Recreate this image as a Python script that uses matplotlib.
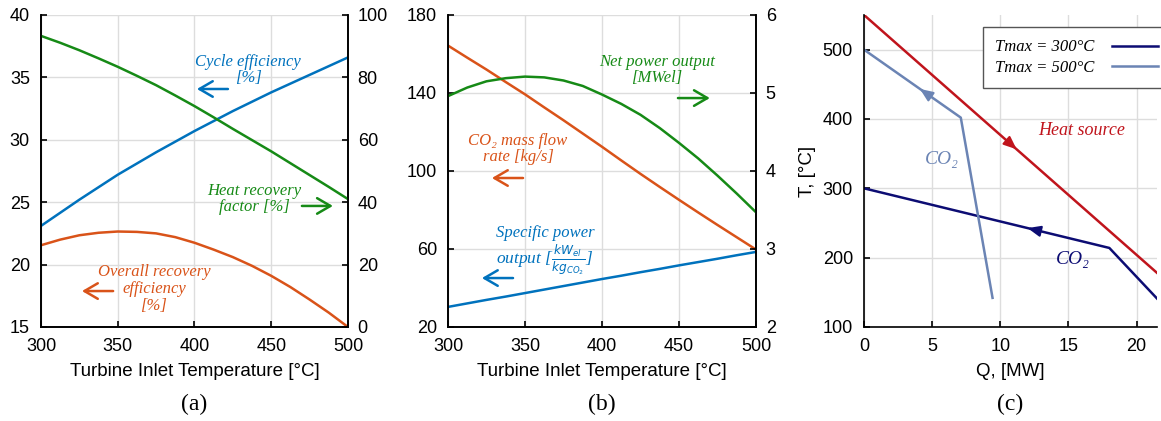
import matplotlib
matplotlib.use('Agg')
import matplotlib.pyplot as plt
import numpy as np

plt.rcParams['font.family'] = ['Liberation Sans', 'DejaVu Sans']
plt.rcParams['mathtext.fontset'] = 'dejavusans'

# (a) turbine inlet temperature sweep
tit = [300, 312.5, 325, 337.5, 350, 362.5, 375, 387.5, 400,
       412.5, 425, 437.5, 450, 462.5, 475, 487.5, 500]
cycle_eff = [23.1, 24.15, 25.2, 26.2, 27.2, 28.1, 29.0, 29.85, 30.7,
             31.5, 32.3, 33.05, 33.8, 34.5, 35.2, 35.9, 36.6]
overall_eff = [21.55, 22.0, 22.35, 22.55, 22.65, 22.62, 22.5, 22.2, 21.75,
               21.2, 20.6, 19.9, 19.1, 18.2, 17.2, 16.15, 15.0]
heat_rec = [93.3, 91.1, 88.7, 86.1, 83.4, 80.5, 77.5, 74.2, 70.8,
            67.2, 63.5, 59.9, 56.3, 52.5, 48.7, 44.9, 41.0]

# (b)
mass_flow = [164.3, 158.1, 152.0, 145.6, 139.3, 132.6, 126.0, 119.2, 112.4,
             105.4, 98.5, 91.8, 85.2, 78.7, 72.3, 66.0, 59.7]
spec_power = [30.3, 32.1, 33.9, 35.6, 37.4, 39.2, 41.0, 42.8, 44.6,
              46.3, 48.1, 49.8, 51.6, 53.3, 55.0, 56.8, 58.5]
net_power = [4.96, 5.07, 5.15, 5.19, 5.21, 5.20, 5.16, 5.09, 4.98,
             4.86, 4.72, 4.55, 4.36, 4.16, 3.94, 3.71, 3.47]

# (c) T-Q diagram
q_hs = [0, 21.5]
t_hs = [550, 178]
q_300 = [0, 18.0, 21.5]
t_300 = [300, 214, 141]
q_500 = [0, 7.1, 9.43]
t_500 = [500, 402, 142]

BLUE = '#0072BD'
ORANGE = '#D95319'
GREEN = '#168a16'
RED = '#c0141c'
NAVY = '#0c0c73'
LIGHT = '#6b84b4'

serif = ['Liberation Serif', 'DejaVu Serif']
TXT = 12
TICK = 13
LAB = 13.5

fig = plt.figure(figsize=(11.61, 4.21), dpi=100)
bot, h = 0.2233, 0.7411
ax_a = fig.add_axes([0.0353, bot, 0.2644, h])
ax_b = fig.add_axes([0.3859, bot, 0.2653, h])
ax_c = fig.add_axes([0.7442, bot, 0.2524, h])


def style_box(ax, ax2):
    ax.spines['top'].set_visible(False)
    ax2.spines['top'].set_visible(False)
    for a in (ax, ax2):
        for s in a.spines.values():
            s.set_linewidth(1.2)
    ax.tick_params(direction='in', length=4, width=1.2, labelsize=TICK, pad=8)
    ax2.tick_params(direction='in', length=4, width=1.2, labelsize=TICK, pad=7)
    ax.grid(True, color='#dddddd', lw=1.0)
    ax.set_axisbelow(True)


def txt_arrow(ax, x0, x1, y, color):
    ax.annotate('', xy=(x1, y), xytext=(x0, y),
                arrowprops=dict(arrowstyle='->,head_length=0.6,head_width=0.35',
                                color=color, lw=1.8, shrinkA=0, shrinkB=0,
                                mutation_scale=16))


def itext(ax, x, y, s, color, size=TXT):
    ax.text(x, y, s, color=color, family=serif, style='italic', fontsize=size,
            ha='center', va='center', linespacing=1.05)


# ---- (a)
ax_a2 = ax_a.twinx()
ax_a.plot(tit, cycle_eff, color=BLUE, lw=1.8)
ax_a.plot(tit, overall_eff, color=ORANGE, lw=1.8)
ax_a2.plot(tit, heat_rec, color=GREEN, lw=1.8)
ax_a.set_xlim(300, 500)
ax_a.set_ylim(15, 40)
ax_a2.set_ylim(0, 100)
ax_a.set_xticks([300, 350, 400, 450, 500])
ax_a.set_yticks([15, 20, 25, 30, 35, 40])
ax_a2.set_yticks([0, 20, 40, 60, 80, 100])
style_box(ax_a, ax_a2)
ax_a.set_xlabel('Turbine Inlet Temperature [°C]', fontsize=LAB, labelpad=6)

itext(ax_a, 435, 35.6, 'Cycle efficiency\n[%]', BLUE)
txt_arrow(ax_a, 421.8, 401.6, 34.07, BLUE)
itext(ax_a, 439, 25.26, 'Heat recovery\nfactor [%]', GREEN)
txt_arrow(ax_a, 470, 490.2, 24.7, GREEN)
itext(ax_a, 373.6, 18.04, 'Overall recovery\nefficiency\n[%]', ORANGE)
txt_arrow(ax_a, 347, 326.7, 17.88, ORANGE)

# ---- (b)
ax_b2 = ax_b.twinx()
ax_b.plot(tit, mass_flow, color=ORANGE, lw=1.8)
ax_b.plot(tit, spec_power, color=BLUE, lw=1.8)
ax_b2.plot(tit, net_power, color=GREEN, lw=1.8)
ax_b.set_xlim(300, 500)
ax_b.set_ylim(20, 180)
ax_b2.set_ylim(2, 6)
ax_b.set_xticks([300, 350, 400, 450, 500])
ax_b.set_yticks([20, 60, 100, 140, 180])
ax_b2.set_yticks([2, 3, 4, 5, 6])
style_box(ax_b, ax_b2)
ax_b.set_xlabel('Turbine Inlet Temperature [°C]', fontsize=LAB, labelpad=6)

itext(ax_b, 435.7, 151.8, 'Net power output\n[MWel]', GREEN)
txt_arrow(ax_b, 449.3, 470, 137.4, GREEN)
itext(ax_b, 345.4, 111.3, 'CO₂ mass flow\nrate [kg/s]', ORANGE)
txt_arrow(ax_b, 348.7, 328.5, 96.4, ORANGE)
itext(ax_b, 363, 68.0, 'Specific power', BLUE)
itext(ax_b, 363, 54.0, r'output [$\frac{kW_{el}}{kg_{CO_2}}$]', BLUE, size=TXT + 0.5)
txt_arrow(ax_b, 342.2, 322, 45.1, BLUE)

# ---- (c)
ax_c.plot(q_hs, t_hs, color=RED, lw=1.8)
ax_c.plot(q_300, t_300, color=NAVY, lw=1.8, label='Tmax = 300°C')
ax_c.plot(q_500, t_500, color=LIGHT, lw=1.8, label='Tmax = 500°C')


def line_arrow(ax, qs, ts, qa, direction, color):
    q0 = qa - 0.3 * direction
    ax.annotate('', xy=(qa, np.interp(qa, qs, ts)),
                xytext=(q0, np.interp(q0, qs, ts)),
                arrowprops=dict(arrowstyle='-|>,head_length=0.6,head_width=0.25',
                                color=color, lw=1.5, shrinkA=0, shrinkB=0,
                                mutation_scale=13))


line_arrow(ax_c, q_hs, t_hs, 11.2, 1, RED)
line_arrow(ax_c, q_300, t_300, 12.0, -1, NAVY)
line_arrow(ax_c, q_500, t_500, 4.1, -1, LIGHT)

ax_c.set_xlim(0, 21.5)
ax_c.set_ylim(100, 550)
ax_c.set_xticks([0, 5, 10, 15, 20])
ax_c.set_yticks([100, 200, 300, 400, 500])
ax_c.spines['top'].set_visible(False)
ax_c.spines['right'].set_visible(False)
for s in ax_c.spines.values():
    s.set_linewidth(1.2)
ax_c.tick_params(direction='in', length=4, width=1.2, labelsize=TICK, pad=8)
ax_c.grid(True, color='#dddddd', lw=1.0)
ax_c.set_axisbelow(True)
ax_c.set_xlabel('Q, [MW]', fontsize=LAB, labelpad=6)
ax_c.set_ylabel('T, [°C]', fontsize=LAB, labelpad=5)

itext(ax_c, 16.0, 383, 'Heat source', RED, size=13)
itext(ax_c, 5.7, 341, 'CO₂', LIGHT, size=14)
itext(ax_c, 15.3, 198, 'CO₂', NAVY, size=14)

leg = ax_c.legend(loc='upper left', bbox_to_anchor=(0.406, 0.962),
                  borderaxespad=0, markerfirst=False, handlelength=2.8,
                  fancybox=False, framealpha=1, edgecolor='#555555',
                  prop=dict(family=serif, style='italic', size=12),
                  labelspacing=0.25, borderpad=0.75, handletextpad=1.0)
leg.get_frame().set_linewidth(1.0)

for ax, lab in ((ax_a, '(a)'), (ax_b, '(b)'), (ax_c, '(c)')):
    pos = ax.get_position()
    fig.text(pos.x0 + pos.width / 2, 0.04, lab, family=serif, fontsize=17,
             ha='center', va='center')

fig.savefig('out.png', dpi=100)
